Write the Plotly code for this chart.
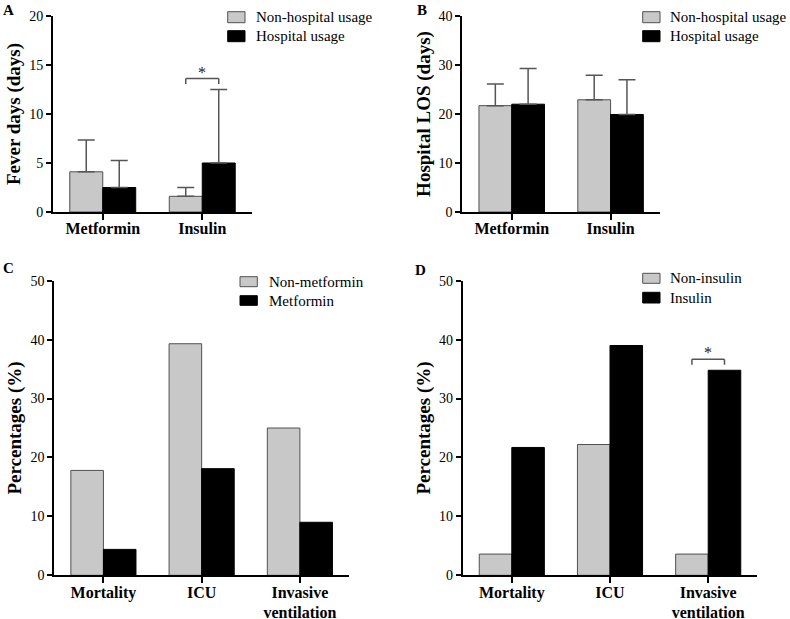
import plotly.graph_objects as go

# ---------------- data ----------------
cats_ab = ["Metformin", "Insulin"]
fever_nonhosp = [4.1, 1.6]
fever_nonhosp_err = [3.25, 0.9]
fever_hosp = [2.5, 5.0]
fever_hosp_err = [2.75, 7.5]

los_nonhosp = [21.7, 22.9]
los_nonhosp_err = [4.4, 5.0]
los_hosp = [22.0, 19.9]
los_hosp_err = [7.3, 7.1]

cats_cd = ["Mortality", "ICU", "Invasive<br>ventilation"]
pct_nonmetformin = [17.8, 39.3, 25.0]
pct_metformin = [4.4, 18.1, 9.0]
pct_noninsulin = [3.6, 22.2, 3.6]
pct_insulin = [21.7, 39.0, 34.8]

legend_ab = ["Non-hospital usage", "Hospital usage"]
legend_c = ["Non-metformin", "Metformin"]
legend_d = ["Non-insulin", "Insulin"]

# ---------------- style ----------------
W, H = 790, 619
GRAY = "#c8c8c8"
GRAY_LINE = "#505050"
ERR = "#555555"
FONT = "Liberation Serif, Times New Roman, serif"
BARGAP = 0.337

def px(x):
    return x / W

def py(y):
    return 1 - y / H

# panel pixel boxes: (x0, x1, ytop, ybottom)
boxes = {
    "A": (53, 252, 16, 212),
    "B": (462.3, 660, 16, 212),
    "C": (54.3, 349, 280.7, 575.3),
    "D": (462.7, 757.3, 280.7, 575.3),
}

fig = go.Figure()

def bars(xa, ya, cats, v1, v2, e1=None, e2=None):
    for vals, err, col, lcol in ((v1, e1, GRAY, GRAY_LINE), (v2, e2, "#000000", "#000000")):
        ey = None
        if err is not None:
            ey = dict(type="data", array=err, arrayminus=[0] * len(err), symmetric=False,
                      color=ERR, thickness=1.5, width=8.5)
        fig.add_trace(go.Bar(x=cats, y=vals, error_y=ey, xaxis=xa, yaxis=ya,
                             marker=dict(color=col, line=dict(color=lcol, width=1)),
                             showlegend=False))

bars("x", "y", cats_ab, fever_nonhosp, fever_hosp, fever_nonhosp_err, fever_hosp_err)
bars("x2", "y2", cats_ab, los_nonhosp, los_hosp, los_nonhosp_err, los_hosp_err)
bars("x3", "y3", cats_cd, pct_nonmetformin, pct_metformin)
bars("x4", "y4", cats_cd, pct_noninsulin, pct_insulin)

def xaxis_cfg(box, n, anchor):
    return dict(domain=[px(box[0]), px(box[1])], range=[-0.5, n - 0.5], type="category",
                anchor=anchor, automargin=False, ticklabelstandoff=-5,
                showline=True, linecolor="black", linewidth=2, ticks="outside", ticklen=6,
                tickwidth=1.5, tickcolor="black", showgrid=False, zeroline=False,
                tickfont=dict(family=FONT, size=16, color="black", weight="bold"),
                fixedrange=True)

def yaxis_cfg(box, rng, dtick, title, anchor, standoff):
    return dict(domain=[py(box[3]), py(box[2])], range=rng, dtick=dtick, anchor=anchor,
                automargin=False,
                showline=True, linecolor="black", linewidth=2, ticks="outside", ticklen=5,
                tickwidth=1.5, tickcolor="black", showgrid=False, zeroline=False,
                tickfont=dict(family=FONT, size=14, color="black"),
                title=dict(text=title, font=dict(family=FONT, size=19, color="black", weight="bold"),
                           standoff=standoff),
                fixedrange=True)

fig.update_layout(
    width=W, height=H, margin=dict(l=0, r=0, t=0, b=0, autoexpand=False),
    paper_bgcolor="white", plot_bgcolor="white",
    barmode="group", bargap=BARGAP, bargroupgap=0,
    font=dict(family=FONT, color="black"),
    xaxis=xaxis_cfg(boxes["A"], 2, "y"),
    yaxis=yaxis_cfg(boxes["A"], [0, 20], 5, "Fever days (days)", "x", 4),
    xaxis2=xaxis_cfg(boxes["B"], 2, "y2"),
    yaxis2=yaxis_cfg(boxes["B"], [0, 40], 10, "Hospital LOS (days)", "x2", 3),
    xaxis3=xaxis_cfg(boxes["C"], 3, "y3"),
    yaxis3=yaxis_cfg(boxes["C"], [0, 50], 10, "Percentages (%)", "x3", 4),
    xaxis4=xaxis_cfg(boxes["D"], 3, "y4"),
    yaxis4=yaxis_cfg(boxes["D"], [0, 50], 10, "Percentages (%)", "x4", 3),
)

# panel letters
for letter, (lx, ly) in {"A": (8, 10), "B": (422, 10), "C": (8, 268), "D": (421, 270)}.items():
    fig.add_annotation(text=letter, x=px(lx), y=py(ly), xref="paper", yref="paper",
                       showarrow=False, xanchor="center", yanchor="middle",
                       font=dict(family=FONT, size=15, color="black", weight="bold"))

# manual legends
def legend(names, bx0, bx1, rows, tx):
    for name, (y0, y1), col, lcol in zip(names, rows, (GRAY, "#000000"), (GRAY_LINE, "#000000")):
        fig.add_shape(type="rect", xref="paper", yref="paper", x0=px(bx0), x1=px(bx1),
                      y0=py(y1), y1=py(y0), fillcolor=col, line=dict(color=lcol, width=1))
        fig.add_annotation(text=name, x=px(tx), y=py((y0 + y1) / 2), xref="paper", yref="paper",
                           showarrow=False, xanchor="left", yanchor="middle",
                           font=dict(family=FONT, size=15, color="black"))

legend(legend_ab, 227.7, 245, [(11.7, 22.7), (30.7, 41.7)], 254)
legend(legend_ab, 642.7, 660, [(11.7, 22.7), (30.7, 41.7)], 668)
legend(legend_c, 240, 257.3, [(276.7, 286.7), (295.7, 305.3)], 266.5)
legend(legend_d, 642.7, 660, [(273.3, 283.3), (292.3, 303)], 668)

# significance brackets
half = (1 - BARGAP) / 4

def bracket(xref, yref, box, ymax, cat_idx, top_val):
    upp = ymax / (box[3] - box[2])  # data units per pixel
    yt = top_val + 11 * upp
    yb = yt - 5.5 * upp
    x0, x1 = cat_idx - half, cat_idx + half
    for (a, b, c, d) in ((x0, yb, x0, yt), (x0, yt, x1, yt), (x1, yt, x1, yb)):
        fig.add_shape(type="line", xref=xref, yref=yref, x0=a, y0=b, x1=c, y1=d,
                      line=dict(color=ERR, width=1.5))
    fig.add_annotation(text="*", x=cat_idx, y=yt, xref=xref, yref=yref, showarrow=False,
                       xanchor="center", yanchor="bottom", yshift=-4,
                       font=dict(family=FONT, size=16, color="#222222"))

bracket("x", "y", boxes["A"], 20, 1, fever_hosp[1] + fever_hosp_err[1])
bracket("x4", "y4", boxes["D"], 50, 2, pct_insulin[2])

fig.write_html("out.html", config={"displayModeBar": False},
               post_script="document.body.style.margin='0';")
